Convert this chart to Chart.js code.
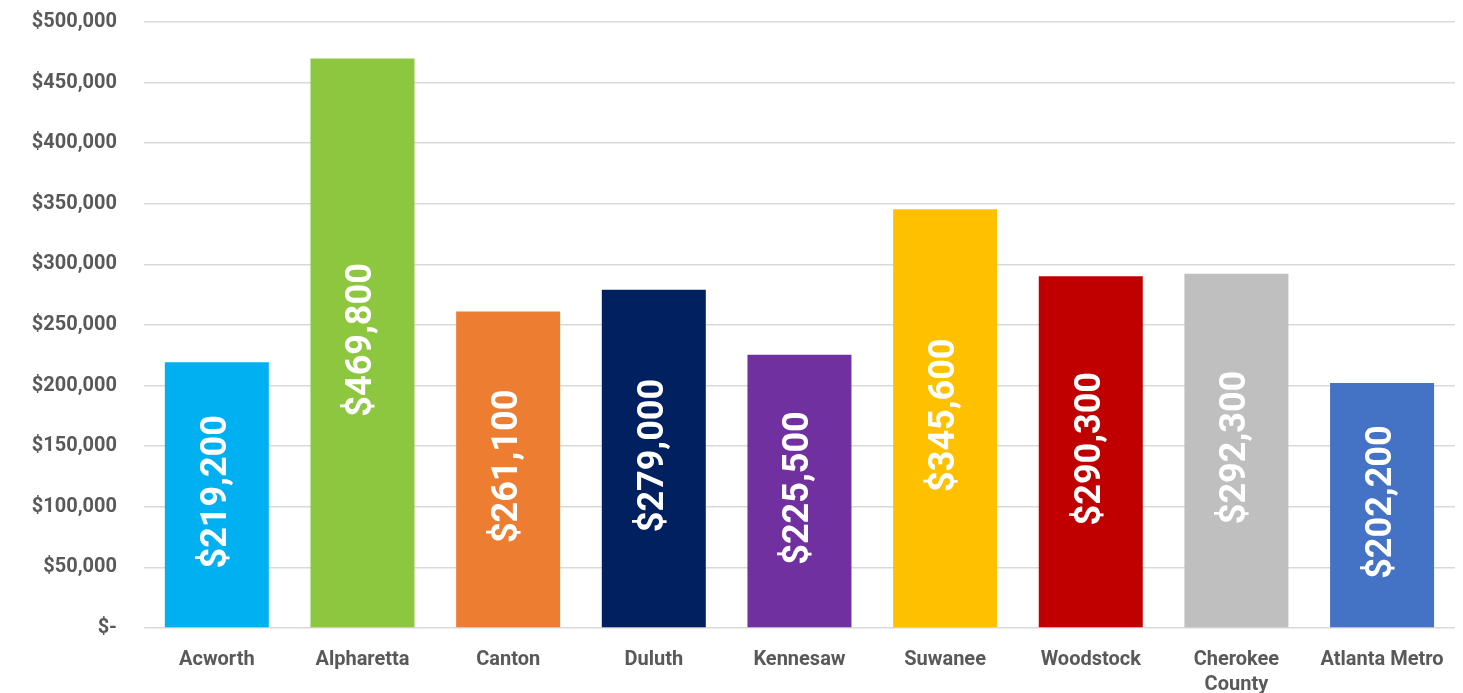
<!DOCTYPE html>
<html>
<head>
<meta charset="utf-8">
<script src="https://cdn.jsdelivr.net/npm/chart.js@4.4.1/dist/chart.umd.min.js"></script>
<style>
  html, body { margin: 0; padding: 0; background: #ffffff; }
  #wrap { width: 1463px; height: 693px; position: relative; }
</style>
</head>
<body>
<div id="wrap"><canvas id="chart"></canvas></div>
<script>
// Median home values by area
const categories = ['Acworth', 'Alpharetta', 'Canton', 'Duluth', 'Kennesaw', 'Suwanee', 'Woodstock', ['Cherokee', 'County'], 'Atlanta Metro'];
const medianValues = [219200, 469800, 261100, 279000, 225500, 345600, 290300, 292300, 202200];
const barColors = ['#00B0F0', '#8DC63F', '#ED7D31', '#002060', '#7030A0', '#FFC000', '#C00000', '#BFBFBF', '#4472C4'];
const yTickValues = [0, 50000, 100000, 150000, 200000, 250000, 300000, 350000, 400000, 450000, 500000];

const money = v => v === 0 ? '$-' : '$' + v.toLocaleString('en-US');

// Writes each bar's value vertically inside the bar
const insideLabels = {
  id: 'insideLabels',
  afterDatasetsDraw(chart) {
    const ctx = chart.ctx;
    const meta = chart.getDatasetMeta(0);
    ctx.save();
    ctx.fillStyle = '#ffffff';
    ctx.font = 'bold 36px Roboto';
    ctx.textAlign = 'center';
    ctx.textBaseline = 'middle';
    meta.data.forEach((bar, i) => {
      const cy = (bar.y + bar.base) / 2 - 3;
      ctx.save();
      ctx.translate(bar.x, cy);
      ctx.rotate(-Math.PI / 2);
      ctx.fillText(money(medianValues[i]), 0, 0);
      ctx.restore();
    });
    ctx.restore();
  }
};

new Chart(document.getElementById('chart'), {
  type: 'bar',
  data: {
    labels: categories,
    datasets: [{
      data: medianValues,
      backgroundColor: barColors,
      borderWidth: 0,
      barPercentage: 0.714,
      categoryPercentage: 1.0
    }]
  },
  options: {
    responsive: true,
    maintainAspectRatio: false,
    animation: false,
    layout: { padding: { top: 22, right: 7, bottom: 0, left: 0 } },
    plugins: {
      legend: { display: false },
      tooltip: { enabled: false }
    },
    scales: {
      x: {
        grid: { display: false, drawTicks: false },
        border: { display: false },
        ticks: {
          color: '#595959',
          font: { family: 'Roboto', weight: 'bold', size: 20, lineHeight: 1.25 },
          padding: 19,
          maxRotation: 0,
          autoSkip: false
        },
        afterFit(scale) { scale.height = 65; }
      },
      y: {
        min: 0,
        max: 500000,
        grid: { color: '#d9d9d9', lineWidth: 1.5, drawTicks: false },
        border: { display: false },
        afterBuildTicks(scale) { scale.ticks = yTickValues.map(v => ({ value: v })); },
        ticks: {
          color: '#595959',
          font: { family: 'Roboto', weight: 'bold', size: 20 },
          padding: 27,
          callback: v => money(v)
        },
        afterFit(scale) {
          scale.width = 144;
          scale.paddingTop = 0;
          scale.paddingBottom = 0;
        }
      }
    }
  },
  plugins: [insideLabels]
});
</script>
</body>
</html>
